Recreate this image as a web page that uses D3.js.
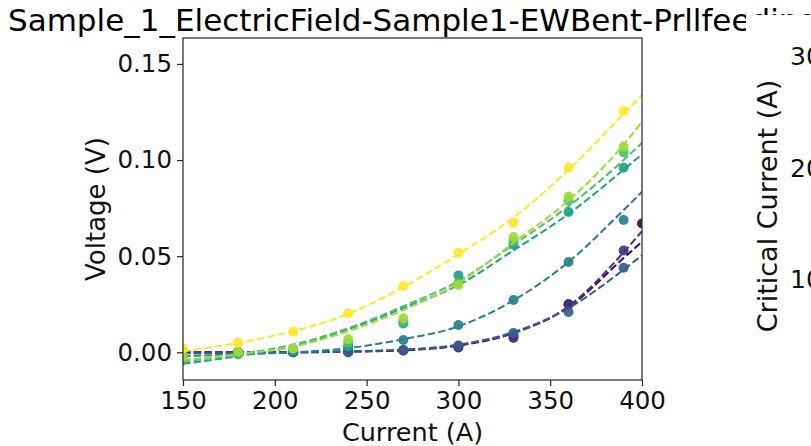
<!DOCTYPE html>
<html>
<head>
<meta charset="utf-8">
<script src="https://cdn.jsdelivr.net/npm/d3@7"></script>
<style>
  html, body { margin: 0; padding: 0; background: #fff; }
  svg { display: block; font-family: "DejaVu Sans", sans-serif; }
</style>
</head>
<body>
<svg id="chart" width="811" height="446"></svg>
<script>
// Measured currents (A) for each sweep, and the current grid of the fitted curves
const measuredCurrents = [150, 180, 210, 240, 270, 300, 330, 360, 390];
const darkestCurrents  = [150, 180, 210, 240, 270, 300, 330, 360, 400];
const fitCurrents      = [150, 180, 210, 240, 270, 300, 330, 360, 390, 400];

// Measured voltages (V), one array per sweep
const volts0 = [0.0002, 0.0000, 0.0000, 0.0005, 0.0010, 0.0025, 0.0085, 0.0250, 0.0670];
const volts1 = [0.0000, 0.0000, 0.0000, 0.0000, 0.0010, 0.0035, 0.0075, 0.0250, 0.0530];
const volts2 = [0.0000, -0.0005, 0.0000, 0.0000, 0.0012, 0.0030, 0.0100, 0.0210, 0.0440];
const volts3 = [0.0000, 0.0000, 0.0000, 0.0030, 0.0064, 0.0142, 0.0272, 0.0470, 0.0688];
const volts4 = [-0.0040, -0.0010, 0.0010, 0.0030, 0.0150, 0.0400, 0.0560, 0.0730, 0.0960];
const volts5 = [-0.0030, -0.0010, 0.0020, 0.0050, 0.0160, 0.0360, 0.0580, 0.0790, 0.1040];
const volts6 = [-0.0020, 0.0003, 0.0020, 0.0068, 0.0177, 0.0350, 0.0600, 0.0810, 0.1070];
const volts7 = [0.0020, 0.0050, 0.0107, 0.0203, 0.0345, 0.0518, 0.0674, 0.0960, 0.1255];

// Fitted voltages (V) on the fit grid
const fit0 = [0.0000, 0.0000, 0.0000, 0.0003, 0.0010, 0.0035, 0.0100, 0.0235, 0.0490, 0.0575];
const fit1 = [0.0000, 0.0000, 0.0000, 0.0004, 0.0012, 0.0037, 0.0100, 0.0240, 0.0520, 0.0630];
const fit2 = [-0.0005, -0.0003, 0.0000, 0.0005, 0.0014, 0.0040, 0.0105, 0.0230, 0.0430, 0.0505];
const fit3 = [-0.0020, -0.0010, 0.0000, 0.0022, 0.0068, 0.0135, 0.0270, 0.0470, 0.0740, 0.0835];
const fit4 = [-0.0060, -0.0020, 0.0030, 0.0120, 0.0230, 0.0350, 0.0530, 0.0720, 0.0950, 0.1030];
const fit5 = [-0.0050, -0.0010, 0.0040, 0.0125, 0.0240, 0.0370, 0.0560, 0.0760, 0.1000, 0.1090];
const fit6 = [-0.0040, -0.0010, 0.0030, 0.0110, 0.0220, 0.0360, 0.0570, 0.0790, 0.1080, 0.1200];
const fit7 = [0.0005, 0.0050, 0.0110, 0.0200, 0.0340, 0.0510, 0.0700, 0.0950, 0.1240, 0.1340];

const sweepColors = ["#440154", "#46327e", "#365c8d", "#277f8e", "#1fa187", "#4ac16d", "#a0da39", "#fde725"];

const xTicks = [150, 200, 250, 300, 350, 400];
const yTicks = [0.00, 0.05, 0.10, 0.15];
const rightTickLabels = ["300", "200", "100"];

const titleText = "Sample_1_ElectricField-Sample1-EWBent-Prllfeeding";

// Assemble sweeps for drawing
const pointSets = [volts0, volts1, volts2, volts3, volts4, volts5, volts6, volts7];
const fitSets = [fit0, fit1, fit2, fit3, fit4, fit5, fit6, fit7];
const sweeps = pointSets.map((v, i) => ({
  color: sweepColors[i],
  points: (i === 0 ? darkestCurrents : measuredCurrents).map((c, k) => ({ I: c, V: v[k] })),
  fit: fitCurrents.map((c, k) => ({ I: c, V: fitSets[i][k] }))
}));

const svg = d3.select("#chart");
const plot = { left: 183, right: 642, top: 38, bottom: 380 };

const x = d3.scaleLinear().domain([150, 400]).range([plot.left, plot.right]);
const y = d3.scaleLinear().domain([-0.01441, 0.1635]).range([plot.bottom, plot.top]);

svg.append("defs").append("clipPath").attr("id", "plotClip")
  .append("rect")
  .attr("x", plot.left).attr("y", plot.top)
  .attr("width", plot.right - plot.left).attr("height", plot.bottom - plot.top);

// Title
svg.append("text")
  .attr("x", 8)
  .attr("y", 30.5)
  .attr("text-anchor", "start")
  .attr("font-size", 31.0)
  .attr("fill", "#000")
  .text(titleText);

// Data layer
const layer = svg.append("g").attr("clip-path", "url(#plotClip)");
const line = d3.line().x(d => x(d.I)).y(d => y(d.V)).curve(d3.curveMonotoneX);

sweeps.forEach(s => {
  const g = layer.append("g");
  g.selectAll("circle").data(s.points).join("circle")
    .attr("cx", d => x(d.I))
    .attr("cy", d => y(d.V))
    .attr("r", 5)
    .attr("fill", s.color)
    .attr("fill-opacity", 0.92);
  g.append("path")
    .datum(s.fit)
    .attr("d", line)
    .attr("fill", "none")
    .attr("stroke", s.color)
    .attr("stroke-width", 2)
    .attr("stroke-dasharray", "7.5,3.2");
});

// Axes
const xAxis = d3.axisBottom(x).tickValues(xTicks).tickFormat(d3.format("d"))
  .tickSizeInner(6).tickSizeOuter(0).tickPadding(6);
const yAxis = d3.axisLeft(y).tickValues(yTicks).tickFormat(d3.format(".2f"))
  .tickSizeInner(6).tickSizeOuter(0).tickPadding(5);

const gx = svg.append("g").attr("transform", `translate(0,${plot.bottom})`).call(xAxis);
const gy = svg.append("g").attr("transform", `translate(${plot.left},0)`).call(yAxis);
[gx, gy].forEach(g => {
  g.select(".domain").remove();
  g.selectAll(".tick line").attr("stroke", "#222").attr("stroke-width", 1.2);
  g.selectAll(".tick text").attr("font-size", 24.5).attr("fill", "#111")
    .attr("font-family", "DejaVu Sans, sans-serif");
});

// Frame
svg.append("rect")
  .attr("x", plot.left).attr("y", plot.top)
  .attr("width", plot.right - plot.left).attr("height", plot.bottom - plot.top)
  .attr("fill", "none").attr("stroke", "#333").attr("stroke-width", 1.3);

// Axis labels
svg.append("text")
  .attr("x", (plot.left + plot.right) / 2).attr("y", 441)
  .attr("text-anchor", "middle").attr("font-size", 25.5).attr("fill", "#111")
  .text("Current (A)");
svg.append("text")
  .attr("transform", `translate(105,${(plot.top + plot.bottom) / 2}) rotate(-90)`)
  .attr("text-anchor", "middle").attr("font-size", 26).attr("fill", "#111")
  .text("Voltage (V)");

// Neighbouring panel (critical current), partly outside the figure edge
svg.append("rect")
  .attr("x", 746).attr("y", 15).attr("width", 65).attr("height", 431)
  .attr("fill", "#fff");
svg.append("text")
  .attr("transform", "translate(777,206) rotate(-90)")
  .attr("text-anchor", "middle").attr("font-size", 27).attr("fill", "#111")
  .text("Critical Current (A)");
const rightY = [56, 168, 279];
svg.selectAll(".rtick").data(rightTickLabels).join("text")
  .attr("class", "rtick")
  .attr("x", 790).attr("y", (d, i) => rightY[i])
  .attr("dy", "0.36em")
  .attr("font-size", 25).attr("fill", "#111")
  .text(d => d);
</script>
</body>
</html>
